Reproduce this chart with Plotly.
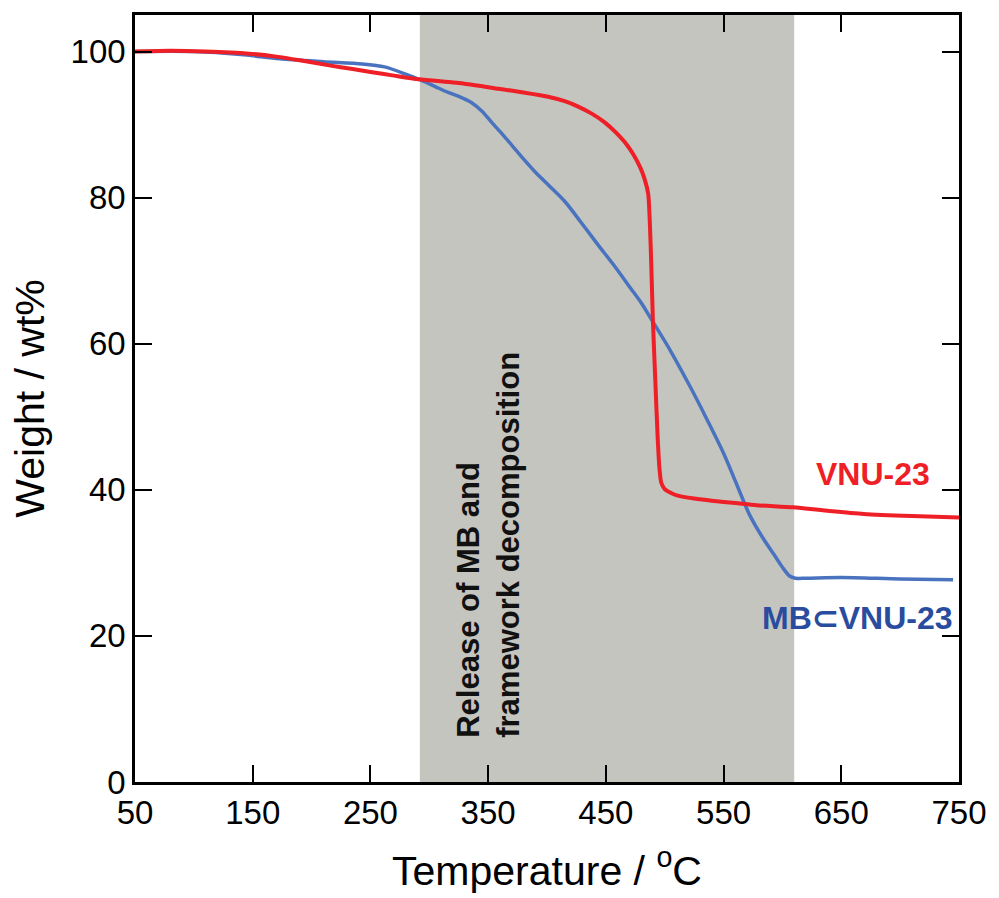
import plotly.graph_objects as go

# Thermogravimetric curves (temperature in °C, weight in wt%)
vnu_temp = [50, 80, 110, 147, 170, 190, 215, 235, 250, 270, 291, 330, 359, 380,
            401, 415, 426, 438, 449, 458, 466, 473, 479, 483, 486, 487.5, 488.5,
            490, 492, 494, 495.5, 497, 500, 505, 511, 525, 540, 560, 578, 609,
            640, 669, 710, 750]
vnu_weight = [100, 100.1, 100.0, 99.7, 99.3, 98.8, 98.1, 97.6, 97.2, 96.7, 96.2,
              95.6, 94.9, 94.4, 93.8, 93.2, 92.5, 91.5, 90.3, 89.0, 87.6, 86.0,
              84.2, 82.5, 80.5, 76.0, 71.3, 63.0, 55.0, 47.2, 43.0, 41.0, 40.1,
              39.6, 39.2, 38.8, 38.5, 38.2, 37.9, 37.6, 37.1, 36.7, 36.4, 36.2]

mb_temp = [50, 100, 140, 173, 210, 243, 262, 280, 294, 305, 316, 326, 336, 345,
           353, 362, 370, 380, 390, 402, 415, 429, 443, 457, 471, 480, 488, 505,
           522, 536, 550, 561, 572, 583, 593, 600, 606, 611, 620, 650, 700, 745]
mb_weight = [100, 100.0, 99.6, 99.0, 98.6, 98.3, 97.9, 96.9, 96.0, 95.2, 94.4,
             93.8, 93.0, 91.8, 90.3, 88.7, 87.2, 85.3, 83.5, 81.6, 79.5, 76.6,
             73.6, 70.7, 67.6, 65.6, 63.5, 59.0, 54.0, 49.6, 45.0, 40.8, 36.6,
             33.5, 31.1, 29.4, 28.2, 27.9, 27.9, 28.0, 27.8, 27.7]

# Temperature window of guest release / framework decomposition
band_start, band_end = 292, 610

x_ticks = [50, 150, 250, 350, 450, 550, 650, 750]
y_ticks = [0, 20, 40, 60, 80, 100]

RED = "#EE1F26"
BLUE_LINE = "#4A73BF"
BLUE_TEXT = "#2A4C9F"
FONT = "Liberation Sans, Arial"

fig = go.Figure()

fig.add_vrect(x0=band_start, x1=band_end, fillcolor="#C4C5BF", opacity=1,
              line_width=0, layer="below")

fig.add_trace(go.Scatter(x=mb_temp, y=mb_weight, mode="lines",
                         line=dict(color=BLUE_LINE, width=3.5, shape="spline", smoothing=0.8),
                         name="MB⊂VNU-23", showlegend=False))
fig.add_trace(go.Scatter(x=vnu_temp, y=vnu_weight, mode="lines",
                         line=dict(color=RED, width=4, shape="spline", smoothing=0.6),
                         name="VNU-23", showlegend=False))

fig.add_annotation(x=677, y=42.2, text="<b>VNU-23</b>", showarrow=False,
                   font=dict(family=FONT, size=32, color=RED))
fig.add_annotation(x=664, y=22.5, text="<b>MB⊂VNU-23</b>", showarrow=False,
                   font=dict(family=FONT, size=32, color=BLUE_TEXT))
fig.add_annotation(x=350, y=5.8, xanchor="center", yanchor="bottom",
                   text="<b>Release of MB and<br>framework decomposition</b>",
                   textangle=-90, align="left", showarrow=False,
                   font=dict(family=FONT, size=31, color="#111111"))

axis_common = dict(
    showline=True, linecolor="black", linewidth=2.5, mirror="allticks",
    ticks="inside", ticklen=17, tickwidth=2, tickcolor="black",
    showgrid=False, zeroline=False,
    tickfont=dict(family=FONT, size=33, color="black"),
)

fig.update_xaxes(range=[50, 750], tickvals=x_ticks,
                 title=dict(text="Temperature / <sup>o</sup>C",
                            font=dict(family=FONT, size=41, color="black"),
                            standoff=26),
                 **axis_common)
fig.update_yaxes(range=[0, 105], tickvals=y_ticks,
                 title=dict(text="Weight / wt%",
                            font=dict(family=FONT, size=41, color="black"),
                            standoff=14),
                 **axis_common)

fig.update_layout(
    width=999, height=898,
    margin=dict(l=135, r=36, t=13, b=115),
    plot_bgcolor="white", paper_bgcolor="white",
)

fig.write_html("out.html")
